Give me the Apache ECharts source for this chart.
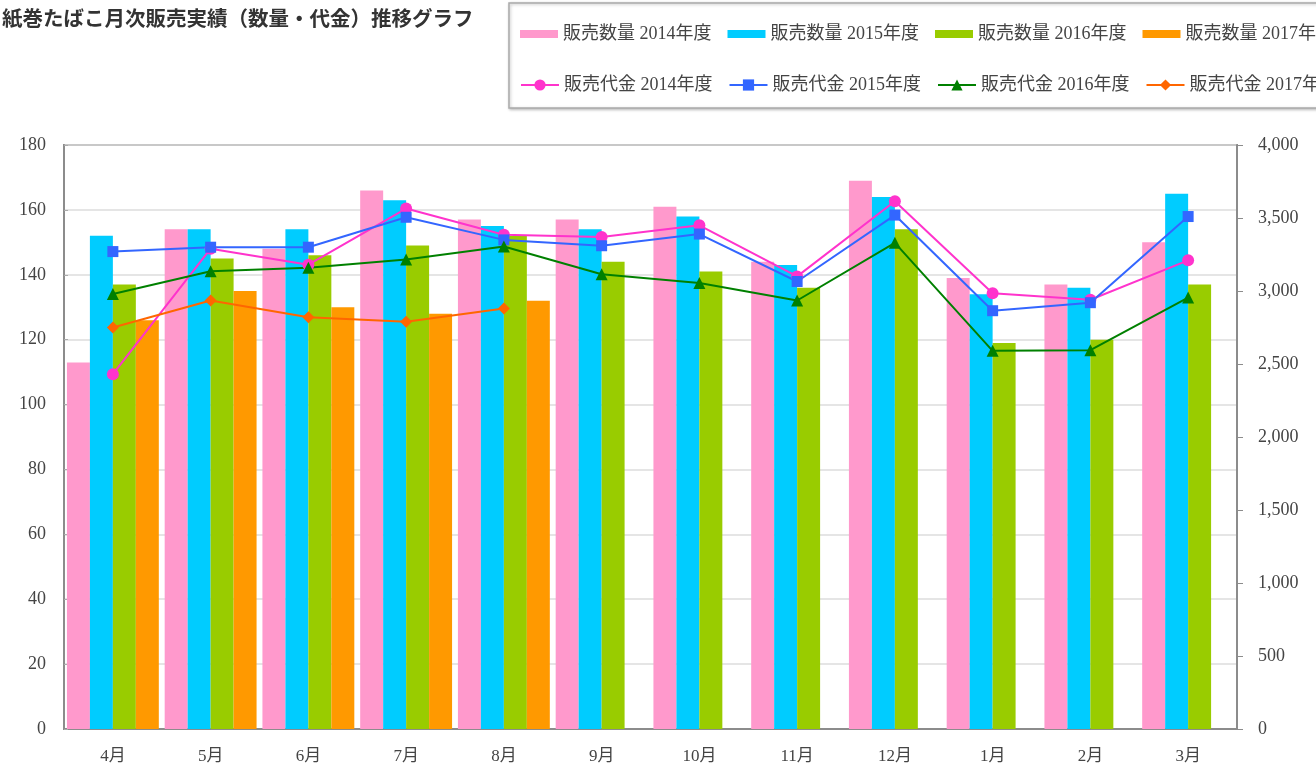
<!DOCTYPE html>
<html>
<head>
<meta charset="utf-8">
<script src="https://cdn.jsdelivr.net/npm/echarts@6/dist/echarts.min.js"></script>
<style>
  html, body { margin: 0; padding: 0; background: #fff; }
  #main { width: 1316px; height: 782px; }
</style>
</head>
<body>
<div id="main"></div>
<script>
const months = ['4月', '5月', '6月', '7月', '8月', '9月', '10月', '11月', '12月', '1月', '2月', '3月'];

// 販売数量 (left axis)
const qty2014 = [113, 154, 148, 166, 157, 157, 161, 144, 169, 139, 137, 150];
const qty2015 = [152, 154, 154, 163, 155, 154, 158, 143, 164, 134, 136, 165];
const qty2016 = [137, 145, 146, 149, 152, 144, 141, 136, 154, 119, 120, 137];
const qty2017 = [126, 135, 130, 128, 132, null, null, null, null, null, null, null];

// 販売代金 (right axis)
const amt2014 = [2430, 3290, 3180, 3565, 3385, 3370, 3450, 3100, 3615, 2985, 2940, 3210];
const amt2015 = [3270, 3300, 3300, 3505, 3350, 3310, 3390, 3065, 3520, 2865, 2920, 3510];
const amt2016 = [2980, 3135, 3160, 3215, 3305, 3115, 3055, 2935, 3330, 2590, 2595, 2955];
const amt2017 = [2750, 2935, 2820, 2790, 2880, null, null, null, null, null, null, null];

const leftTicks = { min: 0, max: 180, interval: 20 };
const rightTicks = { min: 0, max: 4000, interval: 500 };

const serifFont = "'Liberation Serif', 'Noto Sans CJK JP', serif";
const barColors = ['#ff99cc', '#00ccff', '#99cc00', '#ff9900'];
const lineColors = ['#ff33cc', '#3366ff', '#008000', '#ff6600'];

const chart = echarts.init(document.getElementById('main'));

function barSeries(name, data, color) {
  return {
    name: name,
    type: 'bar',
    data: data,
    barGap: '0%',
    barCategoryGap: '6%',
    itemStyle: { color: color },
    emphasis: { disabled: true }
  };
}

function lineSeries(name, data, color, symbol, size) {
  return {
    name: name,
    type: 'line',
    yAxisIndex: 1,
    data: data,
    symbol: symbol,
    symbolSize: size,
    lineStyle: { color: color, width: 2 },
    itemStyle: { color: color },
    z: 5
  };
}

const legendText = { fontFamily: serifFont, fontSize: 18, color: '#444' };

const option = {
  animation: false,
  backgroundColor: '#fff',
  title: {
    text: '紙巻たばこ月次販売実績（数量・代金）推移グラフ',
    left: -3,
    top: 3,
    textStyle: {
      fontFamily: "'Noto Sans CJK JP'",
      fontSize: 20.5,
      fontWeight: 'bold',
      color: '#333'
    }
  },
  graphic: [{
    type: 'rect',
    shape: { x: 509, y: 3, width: 830, height: 105 },
    style: {
      fill: '#fff',
      stroke: '#aaa',
      lineWidth: 1.5,
      shadowBlur: 3,
      shadowColor: 'rgba(0,0,0,0.25)',
      shadowOffsetX: 1,
      shadowOffsetY: 1
    },
    z: -1
  }],
  legend: [
    {
      data: [
        { name: '販売数量 2014年度', icon: 'rect' },
        { name: '販売数量 2015年度', icon: 'rect' },
        { name: '販売数量 2016年度', icon: 'rect' },
        { name: '販売数量 2017年度', icon: 'rect' }
      ],
      left: 515,
      top: 20,
      width: 1200,
      itemWidth: 38,
      itemHeight: 8,
      itemGap: 16,
      textStyle: legendText
    },
    {
      data: ['販売代金 2014年度', '販売代金 2015年度', '販売代金 2016年度', '販売代金 2017年度'],
      left: 515,
      top: 71,
      width: 1200,
      itemWidth: 38,
      itemHeight: 14,
      itemGap: 16,
      textStyle: legendText
    }
  ],
  grid: {
    left: 64,
    right: 79,
    top: 145,
    bottom: 53,
    show: true,
    borderColor: '#8c8c8c',
    borderWidth: 2,
    backgroundColor: 'transparent'
  },
  xAxis: {
    type: 'category',
    data: months,
    axisLine: { lineStyle: { color: '#8c8c8c', width: 2 } },
    axisTick: { inside: true, length: 5, lineStyle: { color: '#8c8c8c' } },
    axisLabel: { fontFamily: serifFont, fontSize: 17, color: '#444', margin: 19 }
  },
  yAxis: [
    {
      type: 'value',
      min: leftTicks.min,
      max: leftTicks.max,
      interval: leftTicks.interval,
      axisLine: { show: true, lineStyle: { color: '#8c8c8c', width: 2 } },
      axisTick: { show: true, inside: true, length: 4, lineStyle: { color: '#aaa' } },
      axisLabel: { fontFamily: serifFont, fontSize: 18, color: '#444', margin: 18 },
      splitLine: { lineStyle: { color: '#dcdcdc', width: 1.5 } }
    },
    {
      type: 'value',
      min: rightTicks.min,
      max: rightTicks.max,
      interval: rightTicks.interval,
      axisLine: { show: true, lineStyle: { color: '#8c8c8c', width: 2 } },
      axisTick: { show: true, length: 6, lineStyle: { color: '#8c8c8c' } },
      axisLabel: {
        fontFamily: serifFont,
        fontSize: 18,
        color: '#444',
        margin: 21,
        formatter: v => v.toLocaleString('en-US')
      },
      splitLine: { show: false }
    }
  ],
  series: [
    barSeries('販売数量 2014年度', qty2014, barColors[0]),
    barSeries('販売数量 2015年度', qty2015, barColors[1]),
    barSeries('販売数量 2016年度', qty2016, barColors[2]),
    barSeries('販売数量 2017年度', qty2017, barColors[3]),
    lineSeries('販売代金 2014年度', amt2014, lineColors[0], 'circle', 12),
    lineSeries('販売代金 2015年度', amt2015, lineColors[1], 'rect', 11),
    lineSeries('販売代金 2016年度', amt2016, lineColors[2], 'triangle', 12),
    lineSeries('販売代金 2017年度', amt2017, lineColors[3], 'diamond', 12)
  ]
};

chart.setOption(option);
</script>
</body>
</html>
